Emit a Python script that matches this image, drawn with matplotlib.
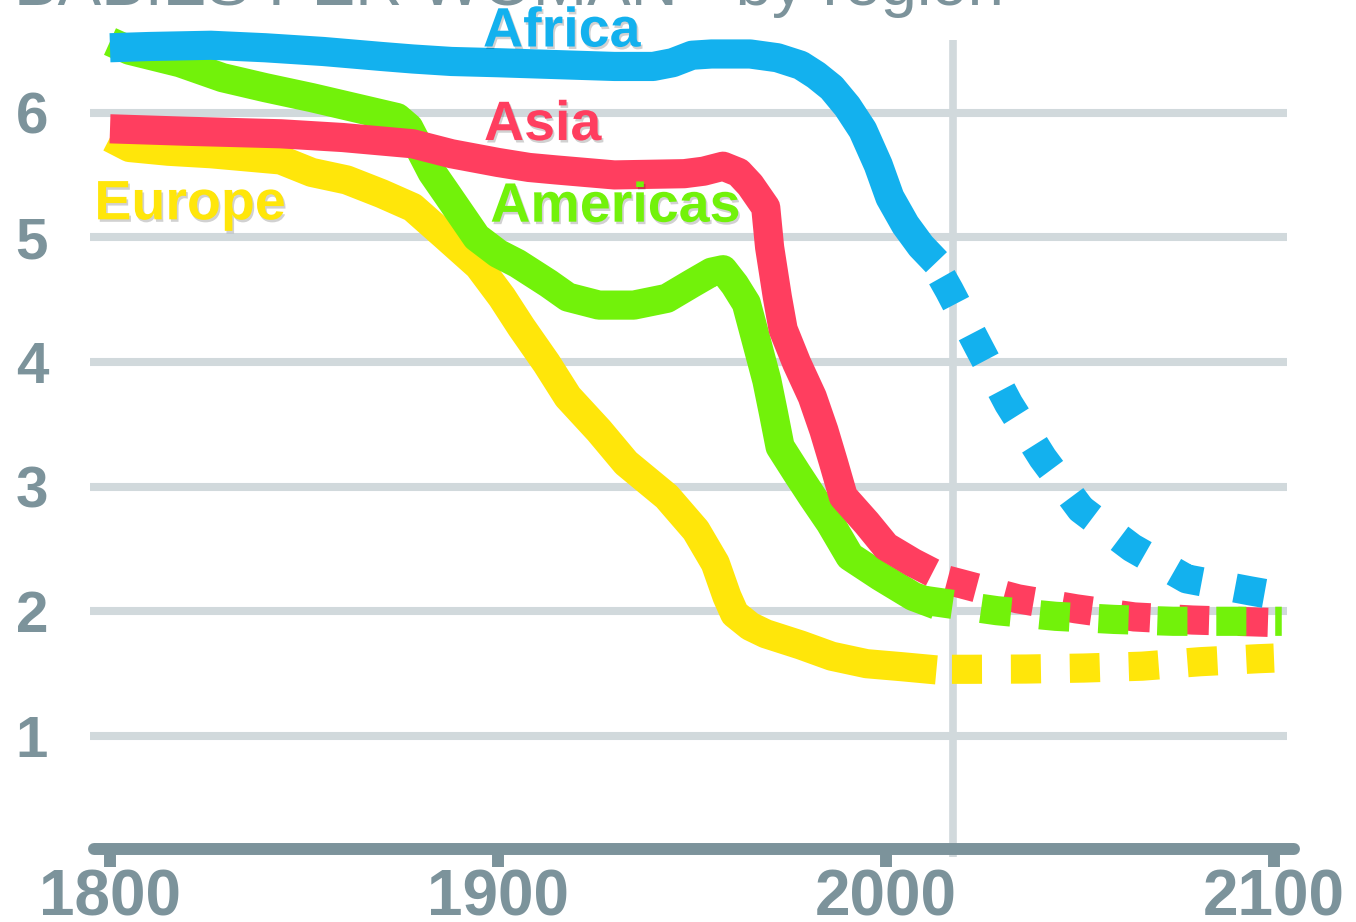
import matplotlib
matplotlib.use("Agg")
import matplotlib.pyplot as plt
import matplotlib.patheffects as pe

plt.rcParams['font.family'] = ['Liberation Sans', 'DejaVu Sans']

# ---------------- data ----------------
title = "BABIES PER WOMAN - by region"
x_ticks = [1800, 1900, 2000, 2100]
y_ticks = [1, 2, 3, 4, 5, 6]
today_year = 2017.2

africa_years = [1800, 1810, 1826, 1840, 1855, 1870, 1878, 1888, 1900, 1910, 1920, 1930,
                1940, 1945, 1950, 1955, 1965, 1972, 1978, 1982, 1986, 1990, 1994, 1998,
                2001, 2005, 2009, 2013]
africa_vals = [6.52, 6.53, 6.54, 6.52, 6.49, 6.45, 6.43, 6.41, 6.40, 6.39, 6.38, 6.37,
               6.37, 6.40, 6.46, 6.47, 6.47, 6.44, 6.38, 6.30, 6.20, 6.05, 5.86, 5.58,
               5.32, 5.10, 4.93, 4.80]
africa_proj_years = [2014.4, 2016.3, 2023.9, 2031.6, 2040.4, 2050.2, 2063.4, 2077.5, 2093.7, 2100]
africa_proj_vals = [4.68, 4.575, 4.12, 3.665, 3.23, 2.82, 2.51, 2.26, 2.165, 2.13]

asia_years = [1800, 1820, 1844, 1860, 1878, 1888, 1900, 1908, 1915, 1930, 1948, 1953,
              1958, 1962, 1965, 1969, 1970, 1972, 1973.5, 1977, 1981, 1984, 1986.5, 1989,
              1995, 2000, 2007, 2012]
asia_vals = [5.87, 5.85, 5.83, 5.80, 5.75, 5.67, 5.60, 5.56, 5.54, 5.50, 5.51, 5.53,
             5.57, 5.52, 5.42, 5.24, 4.92, 4.52, 4.26, 3.99, 3.72, 3.45, 3.19, 2.92,
             2.71, 2.52, 2.39, 2.31]
asia_proj_years = [2015.8, 2019.5, 2034, 2049, 2064, 2079, 2090, 2100]
asia_proj_vals = [2.25, 2.22, 2.10, 2.02, 1.955, 1.93, 1.92, 1.91]

americas_years = [1800, 1805, 1818, 1829, 1840, 1852, 1863, 1874, 1877, 1880, 1883, 1887,
                  1894.5, 1900, 1905, 1909, 1913, 1918, 1926, 1935, 1943.5, 1950, 1955,
                  1958, 1961, 1964, 1967, 1969.3, 1971, 1972.7, 1977, 1981, 1985.6,
                  1990.7, 1998.5, 2007, 2013]
americas_vals = [6.57, 6.50, 6.40, 6.28, 6.20, 6.12, 6.04, 5.96, 5.88, 5.70, 5.52, 5.34,
                 5.00, 4.87, 4.79, 4.71, 4.63, 4.52, 4.456, 4.456, 4.51, 4.63, 4.72,
                 4.74, 4.62, 4.47, 4.12, 3.85, 3.59, 3.32, 3.11, 2.92, 2.71,
                 2.44, 2.28, 2.12, 2.05]
americas_proj_years = [2009.5, 2028.6, 2043.7, 2058.8, 2074, 2089, 2102]
americas_proj_vals = [2.09, 2.005, 1.96, 1.935, 1.92, 1.92, 1.92]

europe_years = [1800, 1805, 1815, 1826, 1844, 1852, 1861, 1870, 1878, 1886, 1895, 1901,
                1906, 1912.5, 1918, 1926, 1933, 1943.5, 1951, 1956, 1959, 1961, 1965,
                1969, 1978, 1986, 1995, 2004, 2013]
europe_vals = [5.80, 5.72, 5.69, 5.67, 5.62, 5.52, 5.46, 5.35, 5.24, 5.02, 4.77, 4.52,
               4.28, 3.99, 3.72, 3.45, 3.19, 2.92, 2.65, 2.385, 2.12, 1.98, 1.88,
               1.82, 1.73, 1.64, 1.58, 1.556, 1.53]
europe_proj_years = [2017, 2021, 2036, 2051, 2066, 2081, 2096, 2100]
europe_proj_vals = [1.535, 1.535, 1.537, 1.545, 1.56, 1.596, 1.62, 1.625]

# ---------------- styles ----------------
C_AXIS = '#7c939b'
C_GRID = '#d1d9dc'
C_AFRICA = '#13b1ee'
C_ASIA = '#ff3e5f'
C_AMERICAS = '#72f20a'
C_EUROPE = '#ffe60a'
LW = 21

fig = plt.figure(figsize=(13.56, 9.22), dpi=100)
ax = fig.add_axes([94 / 1356, (922 - 849.3) / 922, 1200 / 1356, 849.3 / 922])
ax.set_xlim(1795.876, 2105.155)
ax.set_ylim(0.0913, 6.903)

for s in ['left', 'right', 'top']:
    ax.spines[s].set_visible(False)
ax.spines['bottom'].set_color(C_AXIS)
ax.spines['bottom'].set_linewidth(8.6)
ax.spines['bottom'].set_capstyle('round')
ax.spines['bottom'].set_zorder(6)

ax.set_xticks(x_ticks)
ax.set_xticklabels([str(t) for t in x_ticks], fontsize=46, fontweight='bold', color=C_AXIS)
ax.tick_params(axis='x', length=13, width=8.6, color=C_AXIS, pad=1)
ax.set_yticks(y_ticks)
ax.set_yticklabels([str(t) for t in y_ticks], fontsize=42, fontweight='bold', color=C_AXIS)
ax.tick_params(axis='y', length=0, pad=33)

# grid lines
ax.hlines(y_ticks, 1794.85, 2103.3, color=C_GRID, lw=5.8, zorder=1, clip_on=False)
# "today" line
ax.plot([today_year, today_year], [0.03, 6.58], color=C_GRID, lw=5.5, zorder=1.5,
        clip_on=False, solid_capstyle='butt')

solid_kw = dict(lw=LW, solid_capstyle='butt', solid_joinstyle='round')
ax.plot(europe_years, europe_vals, color=C_EUROPE, zorder=2, **solid_kw)
ax.plot(americas_years, americas_vals, color=C_AMERICAS, zorder=3, **solid_kw)
ax.plot(asia_years, asia_vals, color=C_ASIA, zorder=4, **solid_kw)
ax.plot(africa_years, africa_vals, color=C_AFRICA, zorder=5, **solid_kw)

dash_kw = dict(lw=LW, dash_capstyle='butt', dash_joinstyle='round')
ax.plot(europe_proj_years, europe_proj_vals, color=C_EUROPE, zorder=2.1,
        linestyle=(0, (1.03, 0.99)), **dash_kw)
ax.plot(asia_proj_years, asia_proj_vals, color=C_ASIA, zorder=4.1,
        linestyle=(0, (1.03, 0.99)), **dash_kw)
ax.plot(americas_proj_years, americas_proj_vals, color=C_AMERICAS, zorder=4.2,
        linestyle=(0, (1.03, 0.99)), **dash_kw)
ax.plot(africa_proj_years, africa_proj_vals, color=C_AFRICA, zorder=5.1,
        linestyle=(0, (1.03, 1.16)), **dash_kw)

shadow = [pe.withSimplePatchShadow(offset=(1.2, -1.8), shadow_rgbFace='black', alpha=0.18)]
lab_kw = dict(fontsize=40, fontweight='bold', ha='center', va='baseline', zorder=8,
              path_effects=shadow)
ax.text(1916.4, 6.53, "Africa", color=C_AFRICA, **lab_kw)
ax.text(1911.5, 5.78, "Asia", color=C_ASIA, **lab_kw)
ax.text(1930.2, 5.125, "Americas", color=C_AMERICAS, **lab_kw)
ax.text(1820.6, 5.144, "Europe", color=C_EUROPE, **lab_kw)

fig.text(14 / 1356, (922 - 4.5) / 922, title, fontsize=47, color=C_AXIS,
         ha='left', va='baseline')

fig.savefig('out.png', dpi=100)
